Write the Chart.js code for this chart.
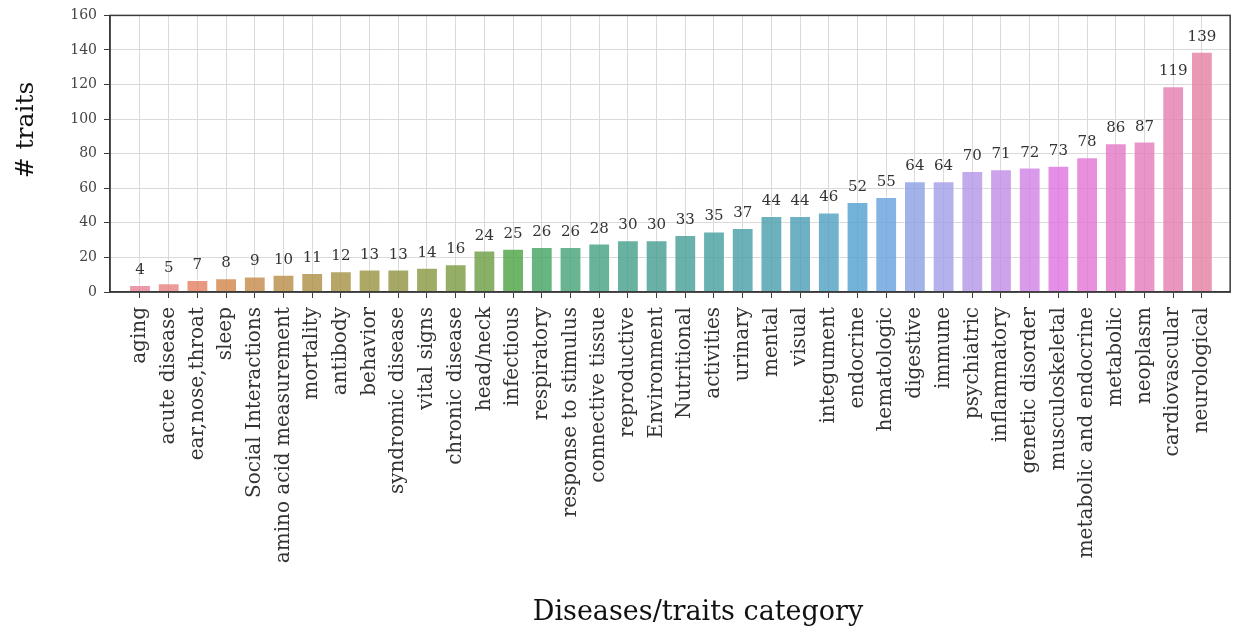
<!DOCTYPE html>
<html><head><meta charset="utf-8">
<script src="https://cdn.jsdelivr.net/npm/chart.js@4.4.1/dist/chart.umd.min.js"></script>
<style>html,body{margin:0;padding:0;background:#fff}#wrap{width:1235px;height:635px;position:relative}</style>
</head><body><div id="wrap"><canvas id="c"></canvas></div>
<script>
const categories = ['aging','acute disease','ear,nose,throat','sleep','Social Interactions','amino acid measurement','mortality','antibody','behavior','syndromic disease','vital signs','chronic disease','head/neck','infectious','respiratory','response to stimulus','connective tissue','reproductive','Environment','Nutritional','activities','urinary','mental','visual','integument','endocrine','hematologic','digestive','immune','psychiatric','inflammatory','genetic disorder','musculoskeletal','metabolic and endocrine','metabolic','neoplasm','cardiovascular','neurological'];
const traitCounts = [4,5,7,8,9,10,11,12,13,13,14,16,24,25,26,26,28,30,30,33,35,37,44,44,46,52,55,64,64,70,71,72,73,78,86,87,119,139];
const yTicks = [0,20,40,60,80,100,120,140,160];
const xTitle = 'Diseases/traits category';
const yTitle = '# traits';

// seaborn-style husl palette (style only)
const M = [[3.2406,-1.5372,-0.4986],[-0.9689,1.8758,0.0415],[0.0557,-0.2040,1.0570]];
function maxChroma(L,H){
  const hr=H/360*2*Math.PI, sinH=Math.sin(hr), cosH=Math.cos(hr);
  const sub1=Math.pow(L+16,3)/1560896; const sub2=sub1>0.0088564?sub1:L/903.2963;
  let res=Infinity;
  for(const [m1,m2,m3] of M){
    const top=(0.99915*m1+1.05122*m2+1.14460*m3)*sub2;
    const rb=0.86330*m3-0.17266*m2, lb=0.12949*m3-0.38848*m1;
    const bottom=(rb*sinH+lb*cosH)*sub2;
    for(const t of [0,1]){const C=L*(top-1.05122*t)/(bottom+0.17266*sinH*t); if(C>0&&C<res)res=C;}
  }
  return res;
}
function fromLin(c){return c<=0.0031308?12.92*c:1.055*Math.pow(c,1/2.4)-0.055;}
function huslToRgb(H,S,L){
  const C=maxChroma(L,H)/100*S, hr=H/360*2*Math.PI;
  const U=C*Math.cos(hr), V=C*Math.sin(hr);
  const Y=L>8?Math.pow((L+16)/116,3):L/903.2963;
  const vu=U/(13*L)+0.19784, vv=V/(13*L)+0.46834;
  const X=-(9*Y*vu)/((vu-4)*vv-vu*vv);
  const Z=(9*Y-15*vv*Y-vv*X)/(3*vv);
  return M.map(r=>Math.min(1,Math.max(0,fromLin(r[0]*X+r[1]*Y+r[2]*Z))));
}
function rgbToHls(r,g,b){const mx=Math.max(r,g,b),mn=Math.min(r,g,b),l=(mx+mn)/2;if(mx===mn)return[0,l,0];
  const s=l<=0.5?(mx-mn)/(mx+mn):(mx-mn)/(2-mx-mn);const rc=(mx-r)/(mx-mn),gc=(mx-g)/(mx-mn),bc=(mx-b)/(mx-mn);
  let h=r===mx?bc-gc:(g===mx?2+rc-bc:4+gc-rc);h=((h/6)%1+1)%1;return[h,l,s];}
function vv_(m1,m2,h){h=((h%1)+1)%1;if(h<1/6)return m1+(m2-m1)*h*6;if(h<0.5)return m2;if(h<2/3)return m1+(m2-m1)*(2/3-h)*6;return m1;}
function hlsToRgb(h,l,s){if(s===0)return[l,l,l];const m2=l<=0.5?l*(1+s):l+s-l*s,m1=2*l-m2;return[vv_(m1,m2,h+1/3),vv_(m1,m2,h),vv_(m1,m2,h-1/3)];}
function palette(n,alpha){
  const out=[];
  for(let i=0;i<n;i++){
    const h=((i/n)+0.01)%1*359;
    const [r,g,b]=huslToRgb(h,0.9*99,0.65*99);
    const [hh,ll,ss]=rgbToHls(r,g,b);
    const c=hlsToRgb(hh,ll,ss*0.75);
    out.push('rgba('+c.map(x=>Math.round(x*255)).join(',')+','+alpha+')');
  }
  return out;
}
const barColors = palette(categories.length,0.8);

const SERIF = '"DejaVu Serif", serif';
const decor = {
  id:'decor',
  afterDatasetsDraw(chart){
    const ctx=chart.ctx, meta=chart.getDatasetMeta(0);
    ctx.save();
    ctx.font='15px '+SERIF; ctx.fillStyle='#333'; ctx.textAlign='center'; ctx.textBaseline='alphabetic';
    meta.data.forEach((bar,i)=>ctx.fillText(String(traitCounts[i]),bar.x,bar.y-11));
    ctx.restore();
  },
  afterDraw(chart){
    const ctx=chart.ctx, a=chart.chartArea;
    ctx.save();
    ctx.strokeStyle='#3a3a3a'; ctx.lineWidth=1.5;
    ctx.strokeRect(a.left,a.top,a.right-a.left,a.bottom-a.top);
    ctx.fillStyle='#111'; ctx.textAlign='center'; ctx.textBaseline='middle';
    ctx.font='27px '+SERIF;
    ctx.fillText(xTitle,698,613);
    ctx.translate(26,130); ctx.rotate(-Math.PI/2);
    ctx.font='25px '+SERIF;
    ctx.fillText(yTitle,0,0);
    ctx.restore();
  }
};

new Chart(document.getElementById('c'),{
  type:'bar',
  data:{datasets:[{data:traitCounts.map((v,i)=>({x:i,y:v})),backgroundColor:barColors,borderColor:'rgba(255,255,255,0.35)',borderWidth:1,barPercentage:0.76,categoryPercentage:1}]},
  options:{
    responsive:true,maintainAspectRatio:false,animation:false,
    layout:{padding:{top:14,right:4,left:0,bottom:0}},
    plugins:{legend:{display:false},tooltip:{enabled:false}},
    scales:{
      x:{type:'linear',min:-1.045,max:37.985,offset:false,
        afterBuildTicks:s=>{s.ticks=categories.map((_,i)=>({value:i}));},
        afterFit:s=>{s.height=343;},
        ticks:{autoSkip:false,minRotation:90,maxRotation:90,padding:9,color:'#333',font:{family:SERIF,size:20},callback:v=>categories[v]},
        grid:{offset:false,color:'#dadada',tickColor:'#3a3a3a',tickLength:6,lineWidth:1},
        border:{color:'#3a3a3a',width:1.5}},
      y:{min:0,max:160,
        afterBuildTicks:s=>{s.ticks=yTicks.map(v=>({value:v}));},
        afterFit:s=>{s.width=110;},
        ticks:{padding:7,color:'#444',font:{family:SERIF,size:14}},
        grid:{color:'#dadada',tickColor:'#3a3a3a',tickLength:6,lineWidth:1},
        border:{color:'#3a3a3a',width:1.5}}
    }
  },
  plugins:[decor]
});
</script></body></html>
